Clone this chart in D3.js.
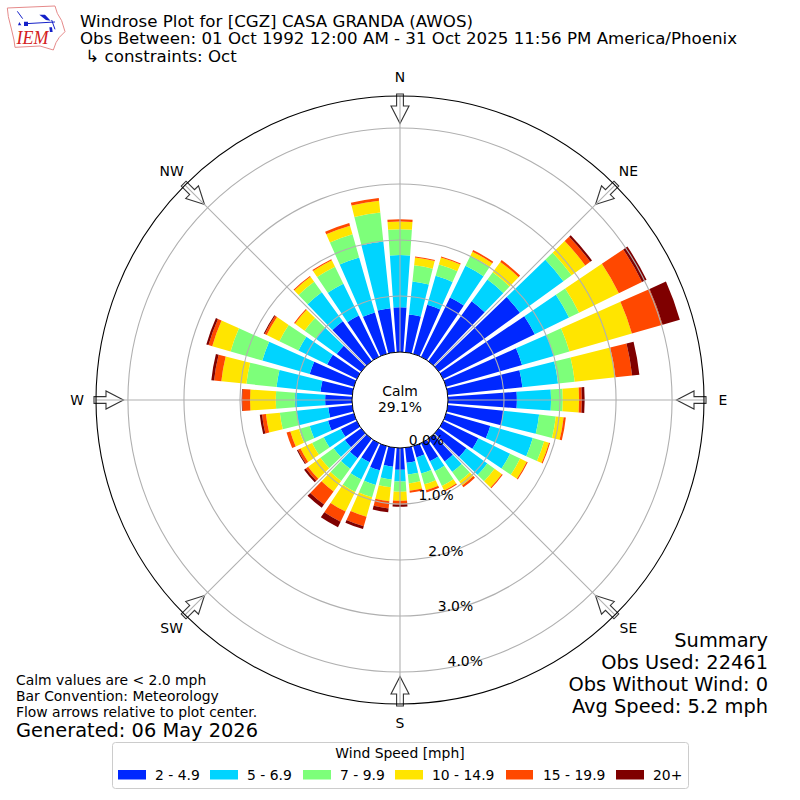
<!DOCTYPE html>
<html><head><meta charset="utf-8">
<script src="https://cdn.jsdelivr.net/npm/d3@7"></script>
<style>html,body{margin:0;padding:0;background:#fff}svg{display:block}text{font-family:"DejaVu Sans",sans-serif;fill:#000}</style>
</head><body><svg id="c" width="800" height="800"></svg>
<script>
const directions = d3.range(0, 360, 10);
const s2to5   = [.80,.68,.91,1.18,1.32,1.79,1.82,1.41,1.34,1.23,1.00,.82,.70,.61,.50,.36,.21,.27,.39,.34,.45,.38,.43,.36,.32,.48,.43,.48,.57,.82,.59,.54,.88,.82,.77,.79];
const s5to7   = [.93,.59,.54,.63,.48,.96,.68,.59,.64,.61,.64,.79,.63,.46,.23,.20,.30,.21,.21,.23,.27,.34,.23,.25,.34,.34,.57,.54,.79,.88,.57,.46,.64,.63,1.02,1.20];
const s7to10  = [.46,.29,.21,.20,.16,.18,.20,.29,.30,.21,.30,.21,.20,.16,.21,.29,.20,.16,.18,.14,.23,.25,.27,.29,.23,.20,.30,.34,.54,.59,.38,.25,.23,.34,.43,.52];
const s10to15 = [.14,.14,.13,.08,.23,.30,.79,1.16,.73,.29,.14,.09,.13,.16,.09,.09,.11,.13,.16,.25,.36,.39,.23,.27,.23,.16,.25,.46,.45,.34,.25,.21,.11,.13,.16,.21];
const s15to20 = [.04,.02,.02,.03,.04,.11,.46,.57,.30,.05,.04,.02,.02,.02,.04,.02,.04,.04,.07,.13,.18,.20,.29,.05,.05,.07,.07,.14,.13,.07,.04,.02,.02,.02,.05,.05];
const s20plus = [0,0,0,0,0,.04,.09,.32,.13,.05,0,0,0,0,0,0,0,0,.04,.07,.05,.11,.07,.04,.02,0,.04,.01,.05,.04,.02,0,0,0,0,0];
const speedBins = ["2 - 4.9","5 - 6.9","7 - 9.9","10 - 14.9","15 - 19.9","20+"];
const speedSeries = [s2to5,s5to7,s7to10,s10to15,s15to20,s20plus];
const speedColors = ["#0028ff","#00d4ff","#7dff7a","#ffe500","#ff4800","#7f0000"];
const ringTicks = [0,1,2,3,4];
const compass = ["N","NE","E","SE","S","SW","W","NW"];
const compassAngles = [0,45,90,135,180,225,270,315];
const titleLines = ["Windrose Plot for [CGZ] CASA GRANDA (AWOS)","Obs Between: 01 Oct 1992 12:00 AM - 31 Oct 2025 11:56 PM America/Phoenix"," \u21B3 constraints: Oct"];
const summaryLines = ["Summary","Obs Used: 22461","Obs Without Wind: 0","Avg Speed: 5.2 mph"];
const noteLines = ["Calm values are < 2.0 mph","Bar Convention: Meteorology","Flow arrows relative to plot center."];

const svg = d3.select("#c");
const cx = 400, cy = 400;
const r = d3.scaleLinear().domain([0,4.57]).range([48,304]);
const rad = d => d*Math.PI/180;
const g = svg.append("g").attr("transform",`translate(${cx},${cy})`);
const pt = (deg,rr) => [rr*Math.sin(rad(deg)), -rr*Math.cos(rad(deg))];

// stacked bars
const rows = directions.map((d,i)=>{const o={dir:d}; speedBins.forEach((b,j)=>o[b]=speedSeries[j][i]); return o;});
const stacked = d3.stack().keys(speedBins)(rows);
const arc = d3.arc();
const halfW = 4;
stacked.forEach((layer,j)=>{
  g.append("g").selectAll("path").data(layer.filter(d=>d[1]>d[0])).join("path")
   .attr("fill",speedColors[j])
   .attr("d",d=>arc({innerRadius:r(d[0]),outerRadius:r(d[1]),
     startAngle:rad(d.data.dir-halfW),endAngle:rad(d.data.dir+halfW)}));
});

// arrows
const arrowShape = [[-3.4,306],[3.4,306],[3.4,294],[9,294],[0,276.5],[-9,294],[-3.4,294]];
const arrowLine = d3.line();
g.append("g").selectAll("path").data(compassAngles).join("path")
  .attr("transform",d=>`rotate(${d})`)
  .attr("d",()=>arrowLine(arrowShape.map(p=>[p[0],-p[1]]))+"Z")
  .attr("fill","#fff").attr("stroke","#333").attr("stroke-width",1.1);

// grid
g.append("g").selectAll("circle").data(ringTicks.slice(1)).join("circle")
  .attr("r",d=>r(d)).attr("fill","none").attr("stroke","#b0b0b0").attr("stroke-width",1.1);
g.append("g").selectAll("line").data(compassAngles).join("line")
  .attr("x1",d=>pt(d,48)[0]).attr("y1",d=>pt(d,48)[1])
  .attr("x2",d=>pt(d,304)[0]).attr("y2",d=>pt(d,304)[1])
  .attr("stroke","#b0b0b0").attr("stroke-width",1.1);

// hole + frame
g.append("circle").attr("r",r(0)).attr("fill","#fff").attr("stroke","#000").attr("stroke-width",1);
g.append("circle").attr("r",r.range()[1]).attr("fill","none").attr("stroke","#000").attr("stroke-width",1.1);

// labels
const T = (x,y,s,size,anchor="middle")=>svg.append("text").attr("x",x).attr("y",y).attr("font-size",size)
   .attr("text-anchor",anchor).attr("dominant-baseline","central").text(s);
T(400,391,"Calm",13.9); T(400,407,"29.1%",13.9);
ringTicks.forEach(t=>{const p=pt(170,r(t)); T(cx+p[0]+18,cy+p[1]-7,t.toFixed(1)+"%",13.9);});
compass.forEach((c,i)=>{const p=pt(compassAngles[i],323); T(cx+p[0],cy+p[1]-(i%2&&(i==1||i==7)?1:0),c,13.9);});

titleLines.forEach((s,i)=>T(80,[21,38.5,56][i],s,16.67,"start").attr("xml:space","preserve").style("white-space","pre"));
summaryLines.forEach((s,i)=>T(768,640+22*i,s,19.4,"end"));
noteLines.forEach((s,i)=>T(16,680+16*i,s,13.9,"start"));
T(16,730,"Generated: 06 May 2026",19.4,"start");

// legend
svg.append("rect").attr("x",112.5).attr("y",742.5).attr("width",576).attr("height",46).attr("rx",3)
   .attr("fill","#fff").attr("stroke","#ccc");
T(400,753,"Wind Speed [mph]",13.9);
const swX=[118,210,303,395,506,616], swW=[28,28,28,28,27,28], lbX=[155,247,340,432,543,653];
speedBins.forEach((b,i)=>{
  svg.append("rect").attr("x",swX[i]).attr("y",770).attr("width",swW[i]).attr("height",9.5).attr("fill",speedColors[i]);
  T(lbX[i],775,b,13.9,"start");
});

// logo
const logo = svg.append("g").attr("transform","scale(0.3333)");
logo.append("path").attr("d","M22 24 L165 18 L172 40 L185 62 L195 95 L178 112 L168 128 L160 150 L120 138 L45 142 L42 120 L35 90 L25 50 Z")
    .attr("fill","#fff").attr("stroke","#e58a8a").attr("stroke-width",3);
logo.append("path").attr("d","M78 71 L165 66 M155 60 L165 88 M52 34 L68 56")
    .attr("fill","none").attr("stroke","#1420c8").attr("stroke-width",3);
logo.append("path").attr("d","M118 44 L135 44 L152 62 L138 60 Z M72 65 L84 65 L84 78 L72 78 Z M58 66 L64 76 L54 76 Z M148 82 L156 82 L158 96 L150 96 Z")
    .attr("fill","#1420c8");
svg.append("text").attr("x",16.5).attr("y",44).attr("font-size",18).attr("font-style","italic")
   .style("font-family","'Liberation Serif',serif").style("fill","#d42020").text("IEM");
</script></body></html>
